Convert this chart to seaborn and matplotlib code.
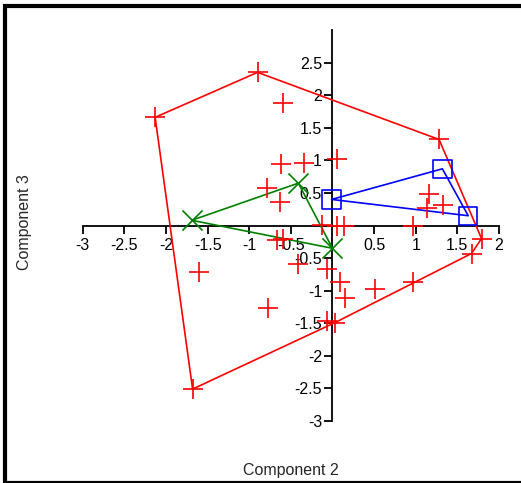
import numpy as np
import pandas as pd
import matplotlib
matplotlib.use('Agg')
import matplotlib.pyplot as plt
import seaborn as sns
from matplotlib.patches import Rectangle

# Datos (componente 2 vs componente 3)
red_c2 = [-2.13, -0.90, 1.28, 1.79, 1.67, 0.97, 0.03, -1.68, -0.59, -0.62,
          -0.34, 0.05, -0.79, -0.63, -0.13, 0.05, 0.14, 0.97, 1.16, 1.33,
          1.14, -0.67, -0.60, -0.41, -0.07, 0.09, 0.15, 0.51, -1.60, -0.77,
          -0.07]
red_c3 = [1.66, 2.35, 1.32, -0.20, -0.43, -0.86, -1.49, -2.51, 1.88, 0.95,
          0.96, 1.02, 0.58, 0.36, 0.01, 0.0, 0.0, -0.01, 0.48, 0.32,
          0.27, -0.22, -0.20, -0.59, -0.67, -0.86, -1.11, -0.97, -0.71, -1.26,
          -1.46]
green_c2 = [-1.69, -0.41, 0.0]
green_c3 = [0.08, 0.65, -0.35]
blue_c2 = [-0.01, 1.32, 1.63]
blue_c3 = [0.40, 0.87, 0.15]

x_ticks = [v for v in np.arange(-3, 2.01, 0.5) if abs(v) > 1e-9]
y_ticks = [v for v in np.arange(-3, 2.51, 0.5) if abs(v) > 1e-9]


def convex_hull(xs, ys):
    pts = sorted(set(zip(xs, ys)))

    def cross(o, a, b):
        return (a[0] - o[0]) * (b[1] - o[1]) - (a[1] - o[1]) * (b[0] - o[0])

    lower, upper = [], []
    for p in pts:
        while len(lower) >= 2 and cross(lower[-2], lower[-1], p) <= 0:
            lower.pop()
        lower.append(p)
    for p in reversed(pts):
        while len(upper) >= 2 and cross(upper[-2], upper[-1], p) <= 0:
            upper.pop()
        upper.append(p)
    hull = lower[:-1] + upper[:-1]
    hull.append(hull[0])
    return [p[0] for p in hull], [p[1] for p in hull]


sns.set_style('white')
plt.rcParams['font.family'] = ['Liberation Sans', 'DejaVu Sans']

fig = plt.figure(figsize=(5.21, 4.83), dpi=100)
W, H = 521, 483
ax = fig.add_axes([82.7 / W, 62 / H, 416.3 / W, 391 / H])
ax.set_xlim(-3, 2)
ax.set_ylim(-3, 3)
ax.patch.set_alpha(0)

grupos = [
    (red_c2, red_c3, '#ff0000'),
    (green_c2, green_c3, '#008000'),
    (blue_c2, blue_c3, '#0000ff'),
]
for xs, ys, col in grupos:
    hx, hy = convex_hull(xs, ys)
    ax.plot(hx, hy, color=col, lw=1.2, clip_on=False, zorder=3)

df_red = pd.DataFrame({'c2': red_c2, 'c3': red_c3})
df_green = pd.DataFrame({'c2': green_c2, 'c3': green_c3})
df_blue = pd.DataFrame({'c2': blue_c2, 'c3': blue_c3})

sns.scatterplot(data=df_red, x='c2', y='c3', marker='+', s=200, color='#ff0000',
                linewidth=1.2, ax=ax, clip_on=False, zorder=4)
sns.scatterplot(data=df_green, x='c2', y='c3', marker='x', s=210, color='#008000',
                linewidth=1.2, ax=ax, clip_on=False, zorder=4)
sns.scatterplot(data=df_blue, x='c2', y='c3', marker='s', s=175, facecolor='none',
                edgecolor='#0000ff', linewidth=1.2, ax=ax, clip_on=False, zorder=4)

for side in ['top', 'right']:
    ax.spines[side].set_visible(False)
for side in ['left', 'bottom']:
    ax.spines[side].set_position(('data', 0))
    ax.spines[side].set_color('black')
    ax.spines[side].set_linewidth(1.3)

ax.set_xticks(x_ticks)
ax.set_xticklabels(['{:g}'.format(v) for v in x_ticks])
ax.set_yticks(y_ticks)
ax.set_yticklabels(['{:g}'.format(v) for v in y_ticks])
ax.tick_params(axis='x', direction='out', length=6, width=1.3, pad=3,
               labelsize=11.5, colors='black', bottom=True)
ax.tick_params(axis='y', direction='out', length=6, width=1.3, pad=1.5,
               labelsize=11.5, colors='black', left=True)
ax.set_xlabel('')
ax.set_ylabel('')

fig.text(291 / W, 1 - 470 / H, 'Component 2', ha='center', va='center', fontsize=11.5)
fig.text(25 / W, 1 - 222 / H, 'Component 3', ha='center', va='center',
         rotation=90, fontsize=11.5)

# Marco negro alrededor de la figura
fig.patches.append(Rectangle((4.5 / W, 0.5 / H), 1.2, 1 - 6 / H, transform=fig.transFigure,
                             fill=False, edgecolor='black', linewidth=3.0))

fig.savefig('out.png', dpi=100)
